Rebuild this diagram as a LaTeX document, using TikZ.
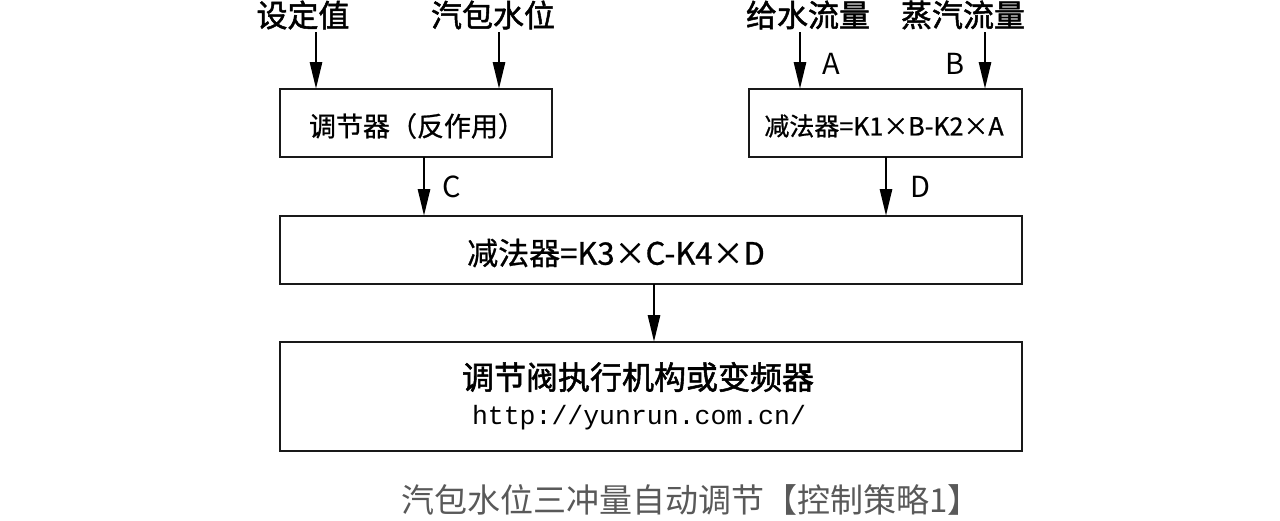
\documentclass[tikz,border=0pt]{standalone}
\usepackage{fontspec}
\usetikzlibrary{arrows.meta}
\newfontfamily\cjk{Noto Sans CJK SC}
\newfontfamily\cjkm{Noto Sans CJK SC}[FakeBold=0.8]
\newfontfamily\cjkb{Noto Sans CJK SC}[FakeBold=1.6]
\newfontfamily\monof{Liberation Mono}
\begin{document}
\begin{tikzpicture}[x=1pt,y=-1pt,
  blk/.style={draw=black!90,line width=2.8pt,fill=white},
  arr/.style={line width=2.8pt,-{Triangle[length=27pt,width=12pt]}},
  lab/.style={font=\cjkb\fontsize{31}{34}\selectfont,inner sep=0pt},
  btxt/.style={font=\cjkm\fontsize{27}{30}\selectfont,inner sep=0pt},
  let/.style={font=\cjk\fontsize{29}{32}\selectfont,inner sep=0pt}]
\useasboundingbox (0,0) rectangle (1280,520);
\fill[white] (0,0) rectangle (1280,520);
% boxes
\draw[blk] (280,89) rectangle (552,157);
\draw[blk] (749,89) rectangle (1022,157);
\draw[blk] (280,216) rectangle (1022,284);
\draw[blk] (280,342) rectangle (1022,451);
\node[btxt] (reg) at (417,126) {调节器（反作用）};
\node[btxt,font=\cjkm\fontsize{25}{30}\selectfont] (sub1) at (884,126) {减法器=K1×B-K2×A};
\node[btxt,font=\cjkm\fontsize{31}{33}\selectfont] (sub2) at (616,253) {减法器=K3×C-K4×D};
\node[btxt,font=\cjkb\fontsize{32}{34}\selectfont] (act) at (638,377) {调节阀执行机构或变频器};
\node[font=\monof\fontsize{26.5}{28}\selectfont,inner sep=0pt] (url) at (639,418) {http://yunrun.com.cn/};
% top labels
\node[lab] (set) at (303,15) {设定值};
\node[lab] (lvl) at (493,15) {汽包水位};
\node[lab] (fw) at (808,15) {给水流量};
\node[lab] (st) at (963,15) {蒸汽流量};
\coordinate (s1) at (316,32); \coordinate (e1) at (316,89);
\coordinate (s2) at (499,32); \coordinate (e2) at (499,89);
\coordinate (s3) at (800,32); \coordinate (e3) at (800,89);
\coordinate (s4) at (985,32); \coordinate (e4) at (985,89);
\draw[arr] (s1) -- (e1);
\draw[arr] (s2) -- (e2);
\draw[arr] (s3) -- (e3);
\draw[arr] (s4) -- (e4);
\node[let] (la) at (831,64) {A};
\node[let] (lb) at (955,64) {B};
% C and D
\coordinate (c1) at (424,157); \coordinate (c2) at (424,216);
\coordinate (d1) at (886,157); \coordinate (d2) at (886,216);
\draw[arr] (c1) -- (c2);
\draw[arr] (d1) -- (d2);
\node[let] (lc) at (452,187) {C};
\node[let] (ld) at (920,187) {D};
% to actuator
\coordinate (f1) at (654,284); \coordinate (f2) at (654,342);
\draw[arr] (f1) -- (f2);
% caption
\node[font=\cjk\fontsize{33}{36}\selectfont,text=black!65,inner sep=0pt] (cap) at (691,500) {汽包水位三冲量自动调节【控制策略1】};
\end{tikzpicture}
\end{document}
